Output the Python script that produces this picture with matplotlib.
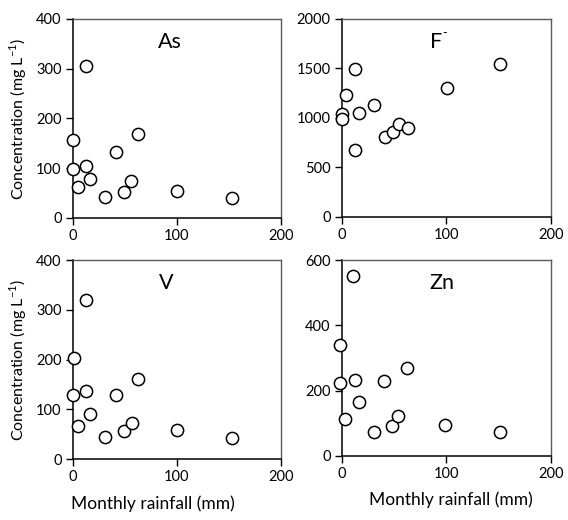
import matplotlib
matplotlib.use("Agg")
import matplotlib.pyplot as plt

plt.rcParams['font.family'] = ['Lato', 'DejaVu Sans']
plt.rcParams['mathtext.fontset'] = 'custom'
plt.rcParams['mathtext.rm'] = 'Lato'

# Data
as_x = [0, 0.6, 4.8, 12.5, 12.8, 16.6, 31.4, 41.6, 49.3, 56.3, 63, 100.2, 153.3]
as_y = [99, 157, 62, 305, 104, 79, 43, 132, 52, 74, 168, 55, 41]

f_x = [0, 0.3, 4.5, 12.8, 12.4, 16.3, 31, 41, 49.4, 55, 63.5, 100.5, 151.5]
f_y = [1040, 988, 1234, 1496, 679, 1055, 1136, 807, 857, 941, 901, 1301, 1543]

v_x = [0, 1, 4.8, 12.8, 12.8, 16.6, 31.4, 41.6, 49.3, 56.6, 62.7, 100, 153]
v_y = [129, 204, 67, 320, 137, 91, 45, 129, 56, 72, 160, 58, 43]

zn_x = [-1.3, -1.3, 2.9, 10.8, 12.8, 16.3, 31, 40.2, 47.8, 54, 62.2, 99.2, 151.5]
zn_y = [341, 224, 114, 552, 234, 164, 73, 230, 93, 123, 270, 94, 73]

x_ticks = [0, 100, 200]
panels = [
    ("As", as_x, as_y, [0, 100, 200, 300, 400], (0.467, 0.885)),
    ("F", f_x, f_y, [0, 500, 1000, 1500, 2000], (0.45, 0.885)),
    ("V", v_x, v_y, [0, 100, 200, 300, 400], (0.447, 0.885)),
    ("Zn", zn_x, zn_y, [0, 200, 400, 600], (0.478, 0.885)),
]
positions = [
    [0.128, 0.5808, 0.3667, 0.3827],
    [0.6016, 0.5827, 0.368, 0.3808],
    [0.128, 0.1173, 0.3667, 0.3827],
    [0.6016, 0.1231, 0.368, 0.3769],
]
xlabel_coords = {2: (0.386, -0.226), 3: (0.523, -0.224)}

fig = plt.figure(figsize=(5.68, 5.20), dpi=100)
for i, ((name, xs, ys, yt, tpos), pos) in enumerate(zip(panels, positions)):
    ax = fig.add_axes(pos)
    ax.plot(xs, ys, linestyle='none', marker='o', markersize=8.8,
            markerfacecolor='white', markeredgecolor='black', markeredgewidth=1.1,
            clip_on=False, zorder=3)
    ax.set_xlim(0, 200)
    ax.set_ylim(yt[0], yt[-1])
    ax.set_xticks(x_ticks)
    ax.set_yticks(yt)
    ax.tick_params(direction='out', length=5, width=1, labelsize=10.5, pad=3,
                   colors='black')
    for s in ['left', 'bottom']:
        ax.spines[s].set_color('black')
        ax.spines[s].set_linewidth(1.1)
    for s in ['top', 'right']:
        ax.spines[s].set_color('#5a5a5a')
        ax.spines[s].set_linewidth(1.0)
    t = ax.text(tpos[0], tpos[1], name, transform=ax.transAxes, fontsize=15.5,
                ha='center', va='center')
    if name == "F":
        ax.annotate('-', xy=(1.0, 0.95), xycoords=t, fontsize=9,
                    ha='left', va='center')
    if i % 2 == 0:
        ax.set_ylabel("Concentration (mg L$^{-1}$)", fontsize=11.5, labelpad=5)
    if i >= 2:
        ax.set_xlabel("Monthly rainfall (mm)", fontsize=12.5, va='center')
        ax.xaxis.set_label_coords(*xlabel_coords[i])

fig.savefig("out.png", dpi=100)
